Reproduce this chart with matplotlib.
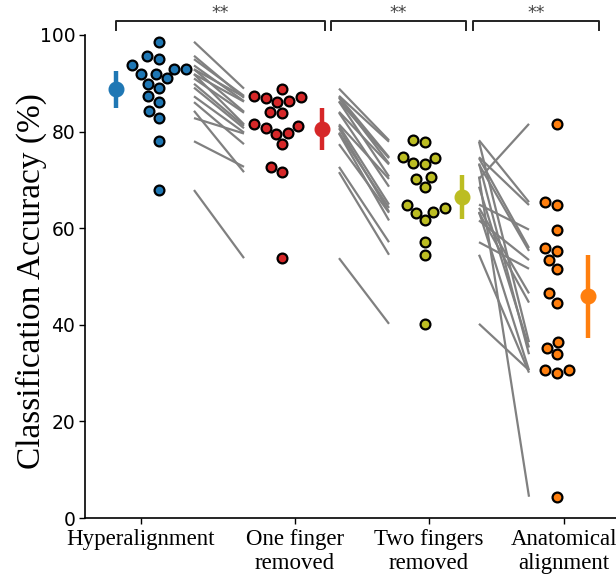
import numpy as np
import matplotlib
matplotlib.use("Agg")
import matplotlib.pyplot as plt

# ---- data (classification accuracy in %, one value per subject, same subject order) ----
conditions = ["Hyperalignment", "One finger\nremoved", "Two fingers\nremoved", "Anatomical\nalignment"]
colors = ["#1f77b4", "#d62728", "#bcbd22", "#ff7f0e"]

hyper = [98.6, 95.7, 95.0, 93.7, 92.9, 92.9, 91.9, 91.9, 91.0,
         89.9, 89.1, 87.3, 86.1, 84.3, 82.8, 78.0, 67.9]
one_finger = [88.9, 87.0, 87.4, 86.3, 87.2, 84.1, 86.2, 81.5, 83.9,
              81.2, 80.7, 79.8, 77.4, 71.6, 79.6, 72.7, 53.8]
two_fingers = [78.2, 73.4, 77.9, 74.5, 74.7, 73.2, 70.7, 70.2, 68.6,
               64.9, 63.4, 64.2, 63.2, 54.5, 61.6, 57.1, 40.2]
anatomical = [65.4, 33.9, 36.4, 55.9, 64.8, 55.3, 4.4, 81.6, 35.3,
              59.7, 30.6, 46.5, 44.6, 30.1, 53.4, 51.6, 30.6]

# half width of the error bar around each mean
ci_half = [3.8, 4.3, 4.6, 8.6]
significance = ["**", "**", "**"]

groups = [np.array(g) for g in (hyper, one_finger, two_fingers, anatomical)]

# ---- layout (x axis in pixel-like units, y in %) ----
W, H = 616, 583
ax_left, ax_bottom, ax_top = 85, 518, 35
ppu = (ax_bottom - ax_top) / 100.0     # pixels per percent

swarm_x = [159, 282, 425, 557]
mean_x = [116, 322, 462, 588]
tick_x = [141, 295, 429, 564]
pair_x = [(194, 244), (339, 389), (479, 529)]
bracket_x = [(116, 325), (331, 466), (473, 599)]
dot_d = 12.0  # spacing of swarm dots, px


def swarm_offsets(vals, d):
    """simple beeswarm: place points (sorted by value) as close to the centre as possible"""
    ys = np.asarray(vals) * ppu
    xs = np.zeros(len(ys))
    placed = []
    for i in np.argsort(ys, kind="stable"):
        y = ys[i]
        left, right = [], []
        for px, py in placed:
            dy = y - py
            if abs(dy) < d:
                dx = np.sqrt(d ** 2 - dy ** 2)
                left.append(px - dx)
                right.append(px + dx)
        cands = sorted([0.0] + left + right, key=abs)
        for c in cands:
            if all((c - px) ** 2 + (y - py) ** 2 >= d ** 2 - 1e-6 for px, py in placed):
                xs[i] = c
                break
        placed.append((xs[i], y))
    return xs


fig = plt.figure(figsize=(W / 100, H / 100), dpi=100)
ax = fig.add_axes([ax_left / W, (H - ax_bottom) / H, (W - ax_left) / W, (ax_bottom - ax_top) / H])

# paired lines between neighbouring conditions
for k, (x0, x1) in enumerate(pair_x):
    for a, b in zip(groups[k], groups[k + 1]):
        ax.plot([x0, x1], [a, b], color="gray", lw=1.6, zorder=1, solid_capstyle="butt")

# swarms
for g, xc, col in zip(groups, swarm_x, colors):
    xs = xc + swarm_offsets(g, dot_d)
    ax.scatter(xs, g, s=50, color=col, edgecolor="black", linewidth=1.6, zorder=3)

# means with error bars
for g, xm, col, e in zip(groups, mean_x, colors, ci_half):
    ax.errorbar(xm, g.mean(), yerr=e, fmt="o", color=col, ms=10.5, elinewidth=3.2,
                capsize=0, zorder=3)

# significance brackets
for (x0, x1), s in zip(bracket_x, significance):
    ax.plot([x0, x0, x1, x1], [101.1, 102.8, 102.8, 101.1], color="#222222", lw=1.4,
            clip_on=False)
    ax.text((x0 + x1) / 2, 102.7, s, ha="center", va="bottom", fontsize=12.5, color="#444444")

ax.set_xlim(ax_left, W)
ax.set_ylim(0, 100)
ax.set_xticks(tick_x)
ax.set_xticklabels(conditions, family="Liberation Serif", fontsize=16.5)
ax.set_yticks([0, 20, 40, 60, 80, 100])
ax.tick_params(axis="y", labelsize=13.5, length=4, width=1, pad=3)
ax.tick_params(axis="x", length=4, width=1, pad=4)
ax.set_ylabel("Classification Accuracy (%)", family="Liberation Serif", fontsize=24)
ax.yaxis.set_label_coords(-0.072, 0.49)

for side in ("top", "right"):
    ax.spines[side].set_visible(False)
for side in ("left", "bottom"):
    ax.spines[side].set_linewidth(1.2)

fig.savefig("out.png", dpi=100)
